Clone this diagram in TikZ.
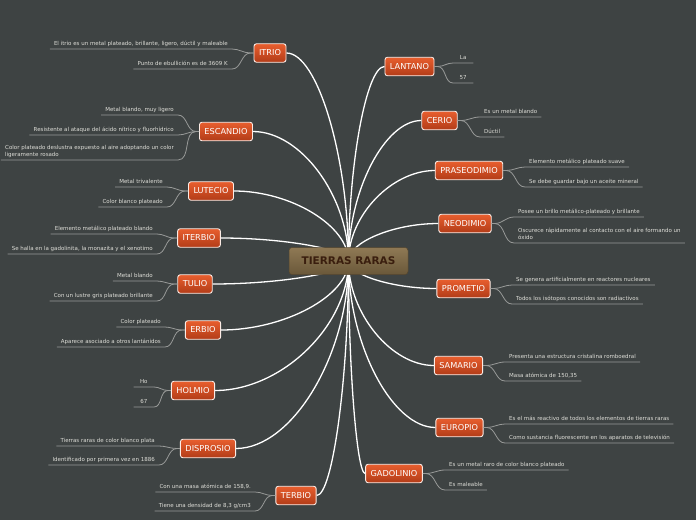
\documentclass[tikz,border=0pt]{standalone}
\usepackage{fontspec}
\setmainfont{DejaVu Sans}
\usetikzlibrary{calc,backgrounds}
\definecolor{bgdark}{RGB}{62,67,67}
\definecolor{elemtop}{RGB}{232,94,46}
\definecolor{elembot}{RGB}{178,60,24}
\definecolor{rootop}{RGB}{143,121,84}
\definecolor{rootbot}{RGB}{106,88,57}
\definecolor{roottext}{RGB}{58,30,14}
\definecolor{leaftext}{RGB}{222,222,216}
\definecolor{twigcol}{RGB}{152,154,152}

\begin{document}
\begin{tikzpicture}[x=1pt, y=-1pt,
    root/.style={draw=rootbot!80!black, line width=0.5pt, rounded corners=3pt,
          top color=rootop, bottom color=rootbot, text=roottext,
          font=\fontsize{10.5}{12}\selectfont\bfseries, minimum width=119pt, minimum height=27pt},
    elem/.style={draw=white!88!elemtop, line width=0.9pt, rounded corners=2.5pt,
          top color=elemtop, bottom color=elembot, text=white,
          font=\fontsize{8.2}{10}\selectfont, minimum height=18.5pt, inner xsep=5pt, inner ysep=0pt},
    leaf/.style={text=leaftext, font=\fontsize{5.5}{6.6}\selectfont, align=left,
          inner xsep=4pt, inner ysep=2.2pt, text depth=1.3pt},
    short/.style={minimum width=20pt},
    branch/.style={draw=white, line width=1.3pt},
    twig/.style={draw=twigcol, line width=0.8pt}]
  \useasboundingbox (0,0) rectangle (696,520);

  % centre
  \node[root] (root) at (348.5,261) {TIERRAS RARAS};

  % left elements
  \node[elem] (itrio)     at (270,53)    {ITRIO};
  \node[elem] (escandio)  at (226,131.5) {ESCANDIO};
  \node[elem] (lutecio)   at (211,191)   {LUTECIO};
  \node[elem] (iterbio)   at (199,238)   {ITERBIO};
  \node[elem] (tulio)     at (195,284)   {TULIO};
  \node[elem] (erbio)     at (203,330)   {ERBIO};
  \node[elem] (holmio)    at (193,390.5) {HOLMIO};
  \node[elem] (disprosio) at (208,448.5) {DISPROSIO};
  \node[elem] (terbio)    at (296,495.5) {TERBIO};

  % right elements
  \node[elem] (lantano)     at (409.5,66.5)  {LANTANO};
  \node[elem] (cerio)       at (439.5,120.5) {CERIO};
  \node[elem] (praseodimio) at (469,170.5)   {PRASEODIMIO};
  \node[elem] (neodimio)    at (465,223.5)   {NEODIMIO};
  \node[elem] (prometio)    at (463.5,288.5) {PROMETIO};
  \node[elem] (samario)     at (458.5,365.5) {SAMARIO};
  \node[elem] (europio)     at (459.5,427.5) {EUROPIO};
  \node[elem] (gadolinio)   at (394,473.5)   {GADOLINIO};

  % left leaves
  \node[leaf, anchor=south east] (itrio1) at (232,49) {El itrio es un metal plateado, brillante, ligero, dúctil y maleable};
  \node[leaf, anchor=south east] (itrio2) at (232,69) {Punto de ebullición es de 3609 K};
  \node[leaf, anchor=south east] (escandio1) at (178,115) {Metal blando, muy ligero};
  \node[leaf, anchor=south east] (escandio2) at (178,135) {Resistente al ataque del ácido nítrico y fluorhídrico};
  \node[leaf, anchor=south east] (escandio3) at (178,160) {Color plateado deslustra expuesto al aire adoptando un color\\ligeramente rosado};
  \node[leaf, anchor=south east] (lutecio1) at (167,187) {Metal trivalente};
  \node[leaf, anchor=south east] (lutecio2) at (167,207) {Color blanco plateado};
  \node[leaf, anchor=south east] (iterbio1) at (157,234) {Elemento metálico plateado blando};
  \node[leaf, anchor=south east] (iterbio2) at (157,254) {Se halla en la gadolinita, la monazita y el xenotimo};
  \node[leaf, anchor=south east] (tulio1) at (157,281) {Metal blando};
  \node[leaf, anchor=south east] (tulio2) at (157,301) {Con un lustre gris plateado brillante};
  \node[leaf, anchor=south east] (erbio1) at (165,327) {Color plateado};
  \node[leaf, anchor=south east] (erbio2) at (165,347) {Aparece asociado a otros lantánidos};
  \node[leaf, short, anchor=south east] (holmio1) at (154,387) {Ho};
  \node[leaf, short, anchor=south east] (holmio2) at (154,407) {67};
  \node[leaf, anchor=south east] (disprosio1) at (159,446) {Tierras raras de color blanco plata};
  \node[leaf, anchor=south east] (disprosio2) at (159,465) {Identificado por primera vez en 1886};
  \node[leaf, anchor=south east] (terbio1) at (255,492) {Con una masa atómica de 158,9.};
  \node[leaf, anchor=south east] (terbio2) at (255,511) {Tiene una densidad de 8,3 g/cm3};

  % right leaves
  \node[leaf, short, anchor=south west] (lantano1) at (453,63) {La};
  \node[leaf, short, anchor=south west] (lantano2) at (453,83) {57};
  \node[leaf, anchor=south west] (cerio1) at (480,117) {Es un metal blando};
  \node[leaf, anchor=south west] (cerio2) at (480,137) {Dúctil};
  \node[leaf, anchor=south west] (praseodimio1) at (525,167) {Elemento metálico plateado suave};
  \node[leaf, anchor=south west] (praseodimio2) at (525,187) {Se debe guardar bajo un aceite mineral};
  \node[leaf, anchor=south west] (neodimio1) at (514,217) {Posee un brillo metálico-plateado y brillante};
  \node[leaf, anchor=south west] (neodimio2) at (514,243) {Oscurece rápidamente al contacto con el aire formando un\\óxido};
  \node[leaf, anchor=south west] (prometio1) at (512,285) {Se genera artificialmente en reactores nucleares};
  \node[leaf, anchor=south west] (prometio2) at (512,304) {Todos los isótopos conocidos son radiactivos};
  \node[leaf, anchor=south west] (samario1) at (505,362) {Presenta una estructura cristalina romboedral};
  \node[leaf, anchor=south west] (samario2) at (505,381) {Masa atómica de 150,35};
  \node[leaf, anchor=south west] (europio1) at (505,424) {Es el más reactivo de todos los elementos de tierras raras};
  \node[leaf, anchor=south west] (europio2) at (505,443) {Como sustancia fluorescente en los aparatos de televisión};
  \node[leaf, anchor=south west] (gadolinio1) at (445,470) {Es un metal raro de color blanco plateado};
  \node[leaf, anchor=south west] (gadolinio2) at (445,490) {Es maleable};

  % twigs
  \foreach \n in {itrio,escandio,lutecio,iterbio,tulio,erbio,holmio,disprosio,terbio}{
    \draw[twig] (\n1.south west) -- (\n1.south east) to[out=0,in=180] ([xshift=-3pt]\n.west) -- (\n.west);
    \draw[twig] (\n2.south west) -- (\n2.south east) to[out=0,in=180] ([xshift=-3pt]\n.west) -- (\n.west);
  }
  \draw[twig] (escandio3.south west) -- (escandio3.south east) to[out=0,in=180] ([xshift=-3pt]escandio.west);
  \foreach \n in {lantano,cerio,praseodimio,neodimio,prometio,samario,europio,gadolinio}{
    \draw[twig] (\n.east) -- ([xshift=3pt]\n.east) to[out=0,in=180] (\n1.south west) -- (\n1.south east);
    \draw[twig] (\n.east) -- ([xshift=3pt]\n.east) to[out=0,in=180] (\n2.south west) -- (\n2.south east);
  }

  % background and branches
  \begin{scope}[on background layer]
    \fill[bgdark] (0,0) rectangle (696,520);
    \foreach \n in {itrio,escandio,lutecio,iterbio,tulio,erbio,holmio,disprosio,terbio}
      \draw[branch] (root.center) .. controls ($(root.center)!0.5!(root.center |- \n.east)$)
        and ($(\n.east)!0.5!(root.center |- \n.east)$) .. (\n.east);
    \foreach \n in {lantano,cerio,praseodimio,neodimio,prometio,samario,europio,gadolinio}
      \draw[branch] (root.center) .. controls ($(root.center)!0.5!(root.center |- \n.west)$)
        and ($(\n.west)!0.5!(root.center |- \n.west)$) .. (\n.west);
  \end{scope}
\end{tikzpicture}
\end{document}
